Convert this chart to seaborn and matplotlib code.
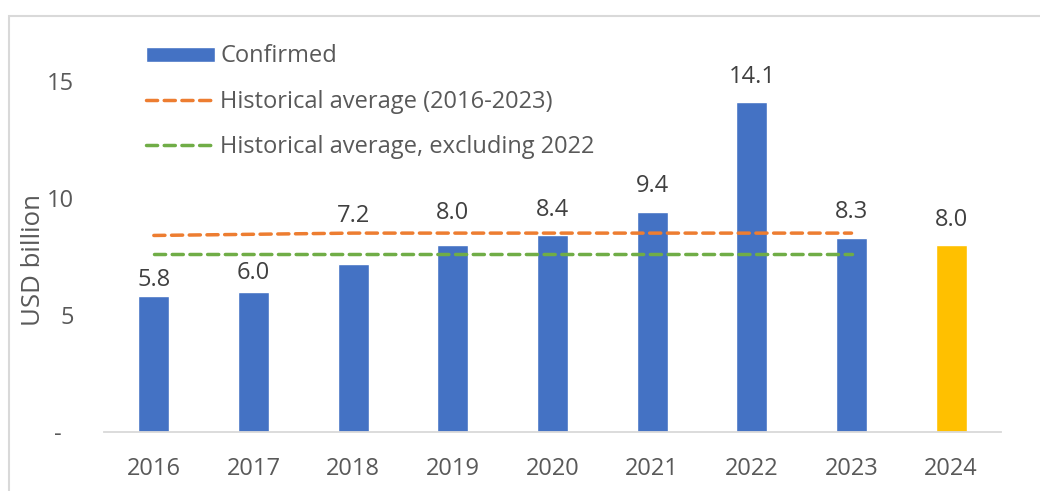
import matplotlib
matplotlib.use("Agg")
import matplotlib.pyplot as plt
import numpy as np
import pandas as pd
import seaborn as sns
from matplotlib.patches import Rectangle, Patch
from matplotlib.lines import Line2D

# data
years = ["2016", "2017", "2018", "2019", "2020", "2021", "2022", "2023", "2024"]
confirmed = [5.8, 6.0, 7.2, 8.0, 8.4, 9.4, 14.1, 8.3, 8.0]
status = ["Confirmed"] * 8 + ["Estimate"]
hist_avg = [8.4, 8.45, 8.5, 8.5, 8.5, 8.5, 8.5, 8.5]
hist_avg_ex2022 = [7.6, 7.6, 7.6, 7.6, 7.6, 7.6, 7.6, 7.6]

# label offsets above each bar (points) - some were nudged around the lines
label_pad = [3.2, 4.6, 25.5, 14, 9.8, 9.8, 9.5, 9.8, 9.2]

df = pd.DataFrame({"Year": years, "Value": confirmed, "Status": status})

sns.set_theme(style="white")
plt.rcParams["font.family"] = ["Open Sans", "DejaVu Sans"]
text_col = "#595959"
dash = (0, (3.2, 1.9))

fig = plt.figure(figsize=(10.4, 4.91), dpi=100)
ax = fig.add_axes([0.1, 0.12, 0.8625, 0.82])

sns.barplot(
    data=df, x="Year", y="Value", hue="Status",
    palette={"Confirmed": "#4472C4", "Estimate": "#FFC000"},
    width=0.31, dodge=False, legend=False, ax=ax, saturation=1,
)

# value labels, one per bar
bars = sorted(ax.patches, key=lambda p: p.get_x())
for bar, val, pad in zip(bars, confirmed, label_pad):
    ax.annotate(f"{val:.1f}", (bar.get_x() + bar.get_width() / 2, bar.get_height()),
                xytext=(0, pad), textcoords="offset points", ha="center", va="bottom",
                fontsize=17, color="#404040")

pos = np.arange(len(hist_avg))
sns.lineplot(x=pos, y=hist_avg, ax=ax, color="#ED7D31", lw=2.5, linestyle=dash)
sns.lineplot(x=pos, y=hist_avg_ex2022, ax=ax, color="#70AD47", lw=2.5, linestyle=dash)
for ln in ax.lines:
    ln.set_dash_capstyle("round")

ax.set_ylim(0, 17.2)
ax.set_xlim(-0.5, 8.5)
ax.set_yticks([0, 5, 10, 15])
ax.set_yticklabels(["-  ", "5", "10", "15"])
ax.tick_params(axis="both", labelsize=17, colors=text_col, length=0)
ax.tick_params(axis="y", pad=21.5)
ax.tick_params(axis="x", pad=18)
ax.set_xlabel("")
ax.set_ylabel("USD billion", fontsize=18.5, color=text_col)
ax.yaxis.set_label_coords(-0.065, 0.427)

for s in ["top", "right", "left"]:
    ax.spines[s].set_visible(False)
ax.spines["bottom"].set_color("#d9d9d9")
ax.spines["bottom"].set_linewidth(1.3)

# legend
handles = [
    Patch(facecolor="#4472C4", label="Confirmed"),
    Line2D([], [], color="#ED7D31", lw=2.5, linestyle=dash,
           dash_capstyle="round", label="Historical average (2016-2023)"),
    Line2D([], [], color="#70AD47", lw=2.5, linestyle=dash,
           dash_capstyle="round", label="Historical average, excluding 2022"),
]
fig.legend(handles=handles, loc="upper left", bbox_to_anchor=(0.12, 0.953),
           frameon=False, fontsize=17, handlelength=2.9, handleheight=0.6,
           handletextpad=0.25, labelspacing=0.9, labelcolor=text_col)

fig.patches.append(Rectangle((9 / 1040, -0.05), 1.2, (491 - 16) / 491 + 0.05,
                             transform=fig.transFigure, fill=False,
                             edgecolor="#d9d9d9", lw=1.5))

fig.savefig("out.png", dpi=100)
